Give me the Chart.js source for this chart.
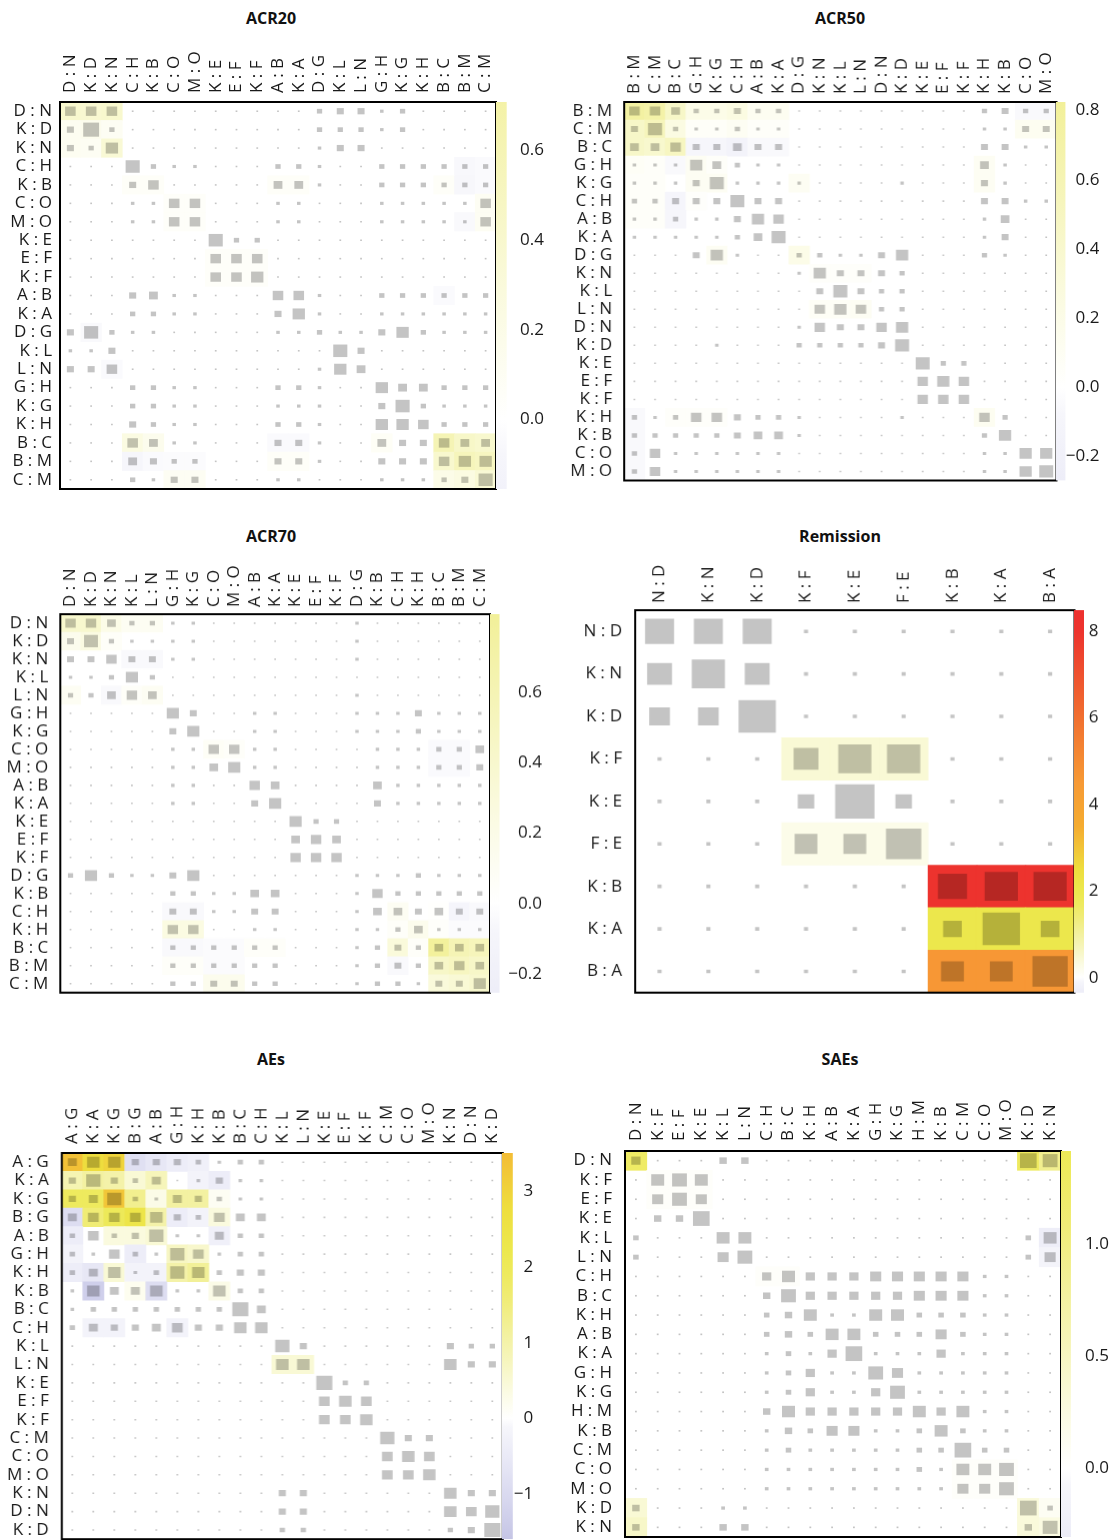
<!DOCTYPE html>
<html>
<head>
<meta charset="utf-8">
<script src="https://cdn.jsdelivr.net/npm/chart.js@4.4.1/dist/chart.umd.min.js"></script>
<style>
  html, body { margin: 0; padding: 0; background: #fff; }
  #page { position: relative; width: 1109px; height: 1540px; overflow: hidden; }
  .box { position: absolute; }
  .title { position: absolute; font: bold 16px "Open Sans", sans-serif; color: #111;
           transform: translate(-50%, -50%); white-space: nowrap; }
</style>
</head>
<body>
<div id="page"></div>
<script>
// ---- data: comparison labels, contribution weights (grey squares), heat values (background) ----
const acr20Labels = ['D : N','K : D','K : N','C : H','K : B','C : O','M : O','K : E','E : F','K : F','A : B','K : A','D : G','K : L','L : N','G : H','K : G','K : H','B : C','B : M','C : M'];
const acr20Weights = [
  [6,6,6,1,1,1,1,1,1,1,1,1,3,4,4,2,3,1,1,1,1],
  [4,9,3,1,1,1,1,1,1,1,1,1,3,3,3,2,3,1,1,1,1],
  [4,3,7,1,1,1,1,1,1,1,1,1,2,4,4,1,1,1,1,1,1],
  [1,1,1,8,3,2,2,1,1,1,3,3,2,1,1,3,3,3,3,3,3],
  [1,1,1,4,6,1,1,1,1,1,5,5,2,1,1,3,3,3,3,3,3],
  [1,1,1,2,2,6,6,1,1,1,2,2,1,1,1,2,2,2,2,2,6],
  [1,1,1,2,2,6,6,1,1,1,2,2,1,1,1,2,2,2,2,2,6],
  [1,1,1,1,1,1,1,8,3,3,1,1,1,1,1,1,1,1,1,1,1],
  [1,1,1,1,1,1,1,6,6,6,1,1,1,1,1,1,1,1,1,1,1],
  [1,1,1,1,1,1,1,6,6,7,1,1,1,1,1,1,1,1,1,1,1],
  [1,1,1,4,5,2,2,1,1,1,6,6,2,1,1,3,3,3,3,3,3],
  [1,1,1,3,3,2,2,1,1,1,4,7,2,1,1,2,2,2,2,2,2],
  [4,8,3,2,2,1,1,1,1,1,2,2,3,2,2,4,7,3,2,2,2],
  [2,2,4,1,1,1,1,1,1,1,1,1,1,8,4,1,1,1,1,1,1],
  [4,4,6,1,1,1,1,1,1,1,1,1,2,7,5,1,1,1,1,1,1],
  [1,1,1,3,3,2,2,1,1,1,3,3,2,1,1,7,5,5,3,3,3],
  [1,1,1,3,3,2,2,1,1,1,2,2,2,1,1,4,8,3,2,2,2],
  [1,1,1,4,3,2,2,1,1,1,3,3,2,1,1,7,7,6,3,3,3],
  [1,1,1,6,5,2,2,1,1,1,4,4,2,1,1,5,4,4,6,5,5],
  [1,1,1,5,4,3,3,1,1,1,4,4,2,1,1,4,4,4,6,7,7],
  [1,1,1,3,2,4,4,1,1,1,2,2,1,1,1,2,2,2,3,4,8]
];
const acr20Heat = [
  [0,0,.4],[0,1,.38],[0,2,.4],[1,0,.12],[1,1,.15],[1,2,.1],[2,0,.12],[2,1,.1],[2,2,.35],
  [3,19,-.06],[3,20,-.04],
  [4,3,.06],[4,4,.06],[4,10,.06],[4,11,.06],[4,18,.06],[4,19,-.07],[4,20,-.04],
  [5,5,.05],[5,6,.05],[5,20,.1],[6,5,.05],[6,6,.05],[6,19,-.05],[6,20,.1],
  [8,7,.05],[8,8,.05],[8,9,.05],[9,7,.05],[9,8,.05],[9,9,.05],
  [10,18,-.04],[12,1,-.05],[14,2,-.04],
  [18,3,.25],[18,4,.15],[18,10,-.04],[18,11,-.04],[18,15,.08],[18,18,.6],[18,19,.45],[18,20,.4],
  [19,3,-.08],[19,4,-.04],[19,5,-.03],[19,6,-.03],[19,10,.06],[19,11,.06],[19,18,.4],[19,19,.55],[19,20,.5],
  [20,5,.1],[20,6,.1],[20,18,.2],[20,19,.25],[20,20,.35]
];
const acr20Ticks = [0, 0.2, 0.4, 0.6];

const acr50Labels = ['B : M','C : M','B : C','G : H','K : G','C : H','A : B','K : A','D : G','K : N','K : L','L : N','D : N','K : D','K : E','E : F','K : F','K : H','K : B','C : O','M : O'];
const acr50Weights = [
  [6,6,5,3,3,4,3,3,1,1,1,1,1,1,1,1,1,3,4,3,3],
  [4,8,3,2,2,3,2,2,1,1,1,1,1,1,1,1,1,2,2,4,4],
  [5,5,6,4,4,5,4,4,1,1,1,1,1,1,1,1,1,4,4,2,2],
  [2,2,2,7,5,3,2,2,1,1,1,1,1,1,1,1,1,5,2,1,1],
  [2,2,2,4,8,2,2,2,2,1,1,1,1,2,1,1,1,4,2,1,1],
  [3,3,4,4,4,8,4,4,1,1,1,1,1,1,1,1,1,4,4,2,2],
  [2,2,3,2,2,4,7,6,1,1,1,1,1,1,1,1,1,2,5,1,1],
  [2,2,2,2,2,3,5,8,1,1,1,1,1,1,1,1,1,2,4,1,1],
  [1,1,1,4,7,2,1,1,3,3,2,2,4,7,1,1,1,3,2,1,1],
  [1,1,1,1,1,1,1,1,2,7,4,4,4,3,1,1,1,1,1,1,1],
  [1,1,1,1,1,1,1,1,1,4,8,4,3,3,1,1,1,1,1,1,1],
  [1,1,1,1,1,1,1,1,1,6,7,6,3,3,1,1,1,1,1,1,1],
  [1,1,1,1,1,1,1,1,2,6,4,4,6,7,1,1,1,1,1,1,1],
  [1,1,1,1,2,1,1,1,3,3,3,3,4,8,1,1,1,1,1,1,1],
  [1,1,1,1,1,1,1,1,1,1,1,1,1,1,8,3,3,1,1,1,1],
  [1,1,1,1,1,1,1,1,1,1,1,1,1,1,6,7,6,1,1,1,1],
  [1,1,1,1,1,1,1,1,1,1,1,1,1,1,6,6,6,1,1,1,1],
  [3,2,3,6,6,4,3,3,2,1,1,1,1,2,1,1,1,6,3,1,1],
  [3,3,3,3,3,4,5,5,2,1,1,1,1,1,1,1,1,3,7,1,1],
  [3,6,2,2,2,2,2,2,1,1,1,1,1,1,1,1,1,2,2,7,7],
  [3,6,2,2,2,2,2,2,1,1,1,1,1,1,1,1,1,2,2,7,8]
];
const acr50Heat = [
  [0,0,.75],[0,1,.7],[0,2,.45],[0,3,.2],[0,4,.2],[0,5,.25],[0,6,.12],[0,7,.12],[0,19,-.05],[0,20,-.05],
  [1,0,.45],[1,1,.55],[1,2,.25],[1,3,.06],[1,4,.06],[1,5,.1],[1,6,.05],[1,7,.05],[1,19,.12],[1,20,.12],
  [2,0,.45],[2,1,.4],[2,2,.5],[2,3,-.08],[2,4,-.08],[2,5,-.15],[2,6,-.05],[2,7,-.05],
  [3,0,.08],[3,1,.05],[3,2,-.05],[3,3,.1],[3,4,.05],[3,17,.1],
  [4,0,.05],[4,1,.05],[4,3,.1],[4,4,.1],[4,8,.1],[4,17,.1],
  [5,0,.05],[5,1,.05],[5,2,-.1],[5,3,.03],[6,0,.05],[6,1,.05],[6,2,-.08],
  [8,4,.1],[8,8,.2],[9,9,.04],[9,10,.04],[9,11,.04],[11,9,.08],[11,10,.08],[11,11,.1],
  [17,0,-.05],[17,2,.04],[17,3,.04],[17,4,.04],[17,17,.12],[18,0,-.05],[19,0,-.05],[20,0,-.05]
];
const acr50Ticks = [-0.2, 0, 0.2, 0.4, 0.6, 0.8];

const acr70Labels = ['D : N','K : D','K : N','K : L','L : N','G : H','K : G','C : O','M : O','A : B','K : A','K : E','E : F','K : F','D : G','K : B','C : H','K : H','B : C','B : M','C : M'];
const acr70Weights = [
  [6,6,5,3,3,2,2,1,1,1,1,1,1,1,2,1,1,1,1,1,1],
  [4,8,3,2,2,2,2,1,1,1,1,1,1,1,2,1,1,1,1,1,1],
  [4,4,6,4,4,2,2,1,1,1,1,1,1,1,2,1,1,1,1,1,1],
  [2,2,3,7,3,1,1,1,1,1,1,1,1,1,1,1,1,1,1,1,1],
  [3,3,5,6,5,1,1,1,1,1,1,1,1,1,2,1,1,1,1,1,1],
  [1,1,1,1,1,7,4,1,1,2,2,1,1,1,2,2,2,4,2,2,2],
  [1,1,1,1,1,4,7,1,1,2,2,1,1,1,2,2,2,3,2,2,2],
  [1,1,1,1,1,2,2,6,6,2,2,1,1,1,1,2,2,2,3,3,5],
  [1,1,1,1,1,2,2,5,7,2,2,1,1,1,1,2,2,2,3,3,4],
  [1,1,1,1,1,2,2,1,1,6,5,1,1,1,1,5,2,2,2,2,2],
  [1,1,1,1,1,2,2,1,1,4,7,1,1,1,1,4,2,2,2,2,2],
  [1,1,1,1,1,1,1,1,1,1,1,7,3,3,1,1,1,1,1,1,1],
  [1,1,1,1,1,1,1,1,1,1,1,5,6,5,1,1,1,1,1,1,1],
  [1,1,1,1,1,1,1,1,1,1,1,6,6,6,1,1,1,1,1,1,1],
  [3,7,3,2,2,4,7,1,1,1,1,1,1,1,2,2,2,3,2,2,2],
  [1,1,1,1,1,3,3,2,2,5,5,1,1,1,2,6,3,3,3,3,3],
  [1,1,1,1,1,4,4,2,2,4,4,1,1,1,2,5,5,4,5,4,4],
  [1,1,1,1,1,6,6,1,1,2,2,1,1,1,2,2,3,5,2,2,2],
  [1,1,1,1,1,3,3,3,3,3,3,1,1,1,2,3,4,3,5,5,5],
  [1,1,1,1,1,3,3,3,3,3,3,1,1,1,2,3,4,3,5,6,5],
  [1,1,1,1,1,3,3,4,4,3,3,1,1,1,2,3,3,2,4,4,7]
];
const acr70Heat = [
  [0,0,.4],[0,1,.4],[0,2,.2],[0,3,.1],[0,4,.1],[1,0,.15],[1,1,.25],[1,2,.06],
  [2,3,-.05],[2,4,-.05],[4,0,.1],[4,2,-.05],[4,3,.06],[4,4,.1],
  [7,7,.08],[7,8,.05],[7,18,-.04],[7,19,-.04],[8,18,-.04],[8,19,-.04],
  [16,5,-.05],[16,6,-.05],[16,16,.1],[16,18,.02],[16,19,-.1],[16,20,-.05],
  [17,5,.25],[17,6,.25],[17,16,.05],[17,17,.15],[17,18,.04],[17,19,-.03],[17,20,-.03],
  [18,5,-.05],[18,6,-.05],[18,7,-.03],[18,8,-.03],[18,9,.05],[18,10,.05],[18,16,.3],[18,17,.05],[18,18,.8],[18,19,.6],[18,20,.55],
  [19,5,.05],[19,6,.05],[19,7,-.03],[19,8,-.03],[19,16,-.05],[19,18,.45],[19,19,.5],[19,20,.45],
  [20,7,.15],[20,8,.15],[20,18,.3],[20,19,.35],[20,20,.4]
];
const acr70Ticks = [-0.2, 0, 0.2, 0.4, 0.6];

const remLabels = ['N : D','K : N','K : D','K : F','K : E','F : E','K : B','K : A','B : A'];
const remWeights = [
  [7,7,7,1,1,1,1,1,1],
  [6,8,6,1,1,1,1,1,1],
  [5,5,9,1,1,1,1,1,1],
  [1,1,1,6,8,8,1,1,1],
  [1,1,1,4,9.5,4,1,1,1],
  [1,1,1,5.5,5.5,8.5,1,1,1],
  [1,1,1,1,1,1,7,8,8],
  [1,1,1,1,1,1,4.5,9,4.5],
  [1,1,1,1,1,1,5.5,5.5,8.5]
];
const remHeat = [
  [3,3,.45],[3,4,.45],[3,5,.45],[5,3,.25],[5,4,.25],[5,5,.25],
  [6,6,8.2],[6,7,8.2],[6,8,8.2],[7,6,2.05],[7,7,2.05],[7,8,2.05],[8,6,4.6],[8,7,4.6],[8,8,4.6]
];
const remTicks = [0, 2, 4, 6, 8];

const aesLabels = ['A : G','K : A','K : G','B : G','A : B','G : H','K : H','K : B','B : C','C : H','K : L','L : N','K : E','E : F','K : F','C : M','C : O','M : O','K : N','D : N','K : D'];
const aesWeights = [
  [5,7,7,4,4,4,3,2,3,3,1,1,1,1,1,1,1,1,1,1,1],
  [4,8,4,3,5,1,2,4,2,2,1,1,1,1,1,1,1,1,1,1,1],
  [4,5,8,3,2,5,4,3,2,2,1,1,1,1,1,1,1,1,1,1,1],
  [5,6,6,6,7,4,3,6,5,5,1,1,1,1,1,1,1,1,1,1,1],
  [3,6,3,4,8,2,2,5,3,3,1,1,1,1,1,1,1,1,1,1,1],
  [3,2,6,3,2,8,6,2,3,3,1,1,1,1,1,1,1,1,1,1,1],
  [3,5,7,2,3,8,7,3,4,4,1,1,1,1,1,1,1,1,1,1,1],
  [2,7,5,5,7,2,2,7,3,3,1,1,1,1,1,1,1,1,1,1,1],
  [2,3,3,3,3,3,3,3,9,5,1,1,1,1,1,1,1,1,1,1,1],
  [3,5,4,4,5,6,4,4,7,7,1,1,1,1,1,1,1,1,1,1,1],
  [1,1,1,1,1,1,1,1,1,1,8,4,1,1,1,1,1,1,4,3,3],
  [1,1,1,1,1,1,1,1,1,1,7,7,1,1,1,1,1,1,7,4,4],
  [1,1,1,1,1,1,1,1,1,1,1,1,9,3,3,1,1,1,1,1,1],
  [1,1,1,1,1,1,1,1,1,1,1,1,6,7,6,1,1,1,1,1,1],
  [1,1,1,1,1,1,1,1,1,1,1,1,6,6,7,1,1,1,1,1,1],
  [1,1,1,1,1,1,1,1,1,1,1,1,1,1,1,8,4,4,1,1,1],
  [1,1,1,1,1,1,1,1,1,1,1,1,1,1,1,6,7,6,1,1,1],
  [1,1,1,1,1,1,1,1,1,1,1,1,1,1,1,6,6,7,1,1,1],
  [1,1,1,1,1,1,1,1,1,1,4,4,1,1,1,1,1,1,7,4,4],
  [1,1,1,1,1,1,1,1,1,1,4,4,1,1,1,1,1,1,7,6,8],
  [1,1,1,1,1,1,1,1,1,1,3,3,1,1,1,1,1,1,3,4,9]
];
const aesHeat = [
  [0,0,3.4],[0,1,2.8],[0,2,3.0],[0,3,-.8],[0,4,-.6],[0,5,-.4],[0,6,-.3],
  [1,0,.9],[1,1,1.1],[1,2,1.0],[1,3,.5],[1,4,.8],[1,6,-.2],[1,7,-.4],
  [2,0,1.9],[2,1,1.9],[2,2,3.3],[2,3,1.3],[2,4,.3],[2,5,1.1],[2,6,1.1],[2,7,.15],
  [3,0,-.9],[3,1,1.6],[3,2,2.0],[3,3,2.4],[3,4,1.0],[3,5,-.4],[3,6,-.2],[3,7,.4],
  [4,0,-.4],[4,2,.4],[4,3,.4],[4,4,.5],[4,7,-.3],
  [5,0,-.2],[5,3,-.4],[5,5,.7],[5,6,.6],
  [6,0,-.4],[6,1,-.6],[6,2,.5],[6,3,-.2],[6,4,-.2],[6,5,1.0],[6,6,1.2],
  [7,1,-1.3],[7,3,.2],[7,4,-.9],[7,7,.3],
  [9,1,-.2],[9,2,-.2],[9,5,-.2],[11,10,.5],[11,11,.5]
];
const aesTicks = [-1, 0, 1, 2, 3];

const saesLabels = ['D : N','K : F','E : F','K : E','K : L','L : N','C : H','B : C','K : H','A : B','K : A','G : H','K : G','H : M','K : B','C : M','C : O','M : O','K : D','K : N'];
const saesWeights = [
  [5,1,1,1,4,4,1,1,1,1,1,1,1,1,1,1,1,1,9,8],
  [1,7,8,7,1,1,1,1,1,1,1,1,1,1,1,1,1,1,1,1],
  [1,6,8,6,1,1,1,1,1,1,1,1,1,1,1,1,1,1,1,1],
  [1,4,4,9,1,1,1,1,1,1,1,1,1,1,1,1,1,1,1,1],
  [3,1,1,1,7,7,1,1,1,1,1,1,1,1,1,1,1,1,3,7],
  [3,1,1,1,6,8,1,1,1,1,1,1,1,1,1,1,1,1,3,6],
  [1,1,1,1,1,1,5,7,5,5,5,6,6,6,6,6,2,2,1,1],
  [1,1,1,1,1,1,4,8,5,5,5,5,5,6,6,6,2,2,1,1],
  [1,1,1,1,1,1,3,4,7,2,2,7,7,3,3,3,2,2,1,1],
  [1,1,1,1,1,1,3,4,3,7,7,3,3,3,6,3,2,2,1,1],
  [1,1,1,1,1,1,2,3,2,5,9,2,2,2,5,2,2,2,1,1],
  [1,1,1,1,1,1,2,3,5,2,2,8,6,2,2,2,2,2,1,1],
  [1,1,1,1,1,1,2,3,5,2,2,5,8,2,2,2,2,2,1,1],
  [1,1,1,1,1,1,4,7,5,5,5,5,5,7,5,7,2,2,1,1],
  [1,1,1,1,1,1,2,4,3,6,6,2,2,3,7,3,2,2,1,1],
  [1,1,1,1,1,1,2,3,2,2,2,2,2,3,3,9,3,3,1,1],
  [1,1,1,1,1,1,2,2,2,2,2,2,2,3,2,7,7,8,1,1],
  [1,1,1,1,1,1,2,2,2,2,2,2,2,2,2,6,6,8,1,1],
  [4,1,1,1,2,2,1,1,1,1,1,1,1,1,1,1,1,1,9,3],
  [4,1,1,1,4,4,1,1,1,1,1,1,1,1,1,1,1,1,4,8]
];
const saesHeat = [
  [0,0,1.25],[0,18,1.3],[0,19,.9],
  [1,1,.04],[1,2,.04],[1,3,.04],[2,1,.04],[2,2,.04],[2,3,.04],
  [4,19,-.25],[5,19,-.12],[6,6,.04],[6,7,.04],
  [16,15,.04],[16,16,.04],[16,17,.04],[17,15,.04],[17,16,.04],[17,17,.04],
  [18,0,.35],[18,18,.3],[18,19,.1],[19,0,.45],[19,18,.3],[19,19,.25]
];
const saesTicks = [0, 0.5, 1.0];

// ---- colour scale: heat value -> rgb ----
const heatStops = [
  [-1.6,[190,190,226]],[-1,[214,214,238]],[-0.5,[232,232,246]],[-0.1,[246,246,251]],[0,[255,255,255]],
  [0.3,[251,251,228]],[0.7,[246,245,188]],[1,[243,241,160]],[1.4,[240,236,120]],[1.7,[238,234,95]],
  [2,[236,232,78]],[2.5,[238,222,62]],[3,[242,196,56]],[3.5,[245,172,48]],[4.5,[247,154,53]],
  [6,[241,112,48]],[8,[237,52,46]],[9,[236,46,46]]
];
function heatColor(v) {
  const s = heatStops;
  if (v <= s[0][0]) return 'rgb(' + s[0][1].join(',') + ')';
  for (let i = 1; i < s.length; i++) {
    if (v <= s[i][0]) {
      const [v0, c0] = s[i - 1], [v1, c1] = s[i];
      const t = (v - v0) / (v1 - v0);
      return 'rgb(' + c0.map((x, k) => Math.round(x + (c1[k] - x) * t)).join(',') + ')';
    }
  }
  return 'rgb(' + s[s.length - 1][1].join(',') + ')';
}

// ---- layout of the six panels (pixel boxes of the matrices) ----
const panels = [
  { title: 'ACR20', labels: acr20Labels, weights: acr20Weights, heat: acr20Heat, gain: 1.3,
    box: [60, 101.5, 496, 488.5], titleAt: [271, 17.5], rowPad: 8, colPad: 9,
    bar: { right: 506.7, labelRight: 544, min: -0.155, max: 0.7075, ticks: acr20Ticks, digits: 1 } },
  { title: 'ACR50', labels: acr50Labels, weights: acr50Weights, heat: acr50Heat, gain: 1.3,
    box: [624, 101.5, 1055.5, 480], titleAt: [840, 17.5], rowPad: 12, colPad: 8,
    bar: { right: 1065, labelRight: 1099, min: -0.269, max: 0.825, ticks: acr50Ticks, digits: 1 } },
  { title: 'ACR70', labels: acr70Labels, weights: acr70Weights, heat: acr70Heat, gain: 1.3,
    box: [60.3, 614, 490, 991.7], titleAt: [271, 535.7], rowPad: 12, colPad: 7,
    bar: { right: 499.6, labelRight: 542, min: -0.2536, max: 0.8225, ticks: acr70Ticks, digits: 1 } },
  { title: 'Remission', labels: remLabels, weights: remWeights, heat: remHeat, gain: 1,
    box: [635, 610, 1073.5, 991.7], titleAt: [840, 535.7], rowPad: 13, colPad: 7,
    bar: { right: 1083.5, labelRight: 1098, min: -0.347, max: 8.49, ticks: remTicks, digits: 0 } },
  { title: 'AEs', labels: aesLabels, weights: aesWeights, heat: aesHeat, gain: 0.9,
    box: [61.7, 1152.7, 501.8, 1538.9], titleAt: [271, 1059], rowPad: 13, colPad: 9,
    bar: { right: 512.6, labelRight: 533, min: -1.594, max: 3.504, ticks: aesTicks, digits: 0 } },
  { title: 'SAEs', labels: saesLabels, weights: saesWeights, heat: saesHeat, gain: 1.3,
    box: [625, 1150.7, 1061, 1536.7], titleAt: [840, 1059], rowPad: 13, colPad: 10,
    bar: { right: 1071, labelRight: 1109, min: -0.306, max: 1.413, ticks: saesTicks, digits: 1 } }
];

Chart.defaults.animation = false;
Chart.defaults.font.family = '"Open Sans", sans-serif';
Chart.defaults.plugins.legend.display = false;
Chart.defaults.plugins.tooltip.enabled = false;

const SQ = 0.085;              // side of a square per unit of weight, as a share of the cell
const FS = 17;
const labelFont = { size: FS, lineHeight: 1.2 };
const ink = '#1a1a1a';
const page = document.getElementById('page');

const frame = {
  id: 'frame',
  afterDatasetsDraw(chart) {
    const a = chart.chartArea, c = chart.ctx;
    c.save();
    c.strokeStyle = '#000';
    c.lineWidth = 2;
    c.strokeRect(a.left, a.top, a.right - a.left, a.bottom - a.top);
    c.restore();
  }
};

function addCanvas(left, top, width, height) {
  const wrap = document.createElement('div');
  wrap.className = 'box';
  Object.assign(wrap.style, { left: left + 'px', top: top + 'px', width: width + 'px', height: height + 'px' });
  const cv = document.createElement('canvas');
  wrap.appendChild(cv);
  page.appendChild(wrap);
  return cv;
}

function fmt(v, digits) {
  return v.toFixed(digits).replace('-', '\u2212');
}

panels.forEach(p => {
  const [L, T, R, B] = p.box;
  const n = p.labels.length;
  const YW = Math.min(L, 70), XH = 64, PADR = 8, PADB = 30;

  // title
  const t = document.createElement('div');
  t.className = 'title';
  t.textContent = p.title;
  t.style.left = p.titleAt[0] + 'px';
  t.style.top = p.titleAt[1] + 'px';
  page.appendChild(t);

  // grey squares, one dataset per weight so each gets its own bar width
  const byWeight = {};
  p.weights.forEach((row, r) => row.forEach((w, c) => {
    (byWeight[w] = byWeight[w] || []).push({ x: p.labels[c], y: [r - w * SQ / 2, r + w * SQ / 2] });
  }));
  const squareSets = Object.keys(byWeight).map(w => ({
    data: byWeight[w],
    backgroundColor: 'rgba(0,0,0,0.23)',
    barPercentage: Number(w) * SQ, categoryPercentage: 1, grouped: false, order: 1
  }));
  const heatSet = {
    data: p.heat.map(([r, c, v]) => ({ x: p.labels[c], y: [r - 0.5, r + 0.5], v })),
    backgroundColor: ctx => (ctx.raw ? heatColor(ctx.raw.v * p.gain) : 'rgba(0,0,0,0)'),
    barPercentage: 1, categoryPercentage: 1, grouped: false, order: 2
  };

  const cv = addCanvas(L - YW, T - XH, YW + (R - L) + PADR, XH + (B - T) + PADB);
  new Chart(cv, {
    type: 'bar',
    data: { labels: p.labels, datasets: [...squareSets, heatSet] },
    options: {
      responsive: true, maintainAspectRatio: false,
      layout: { padding: { left: 0, top: 0, right: PADR, bottom: PADB } },
      scales: {
        x: {
          type: 'category', position: 'top', offset: true,
          grid: { display: false, drawTicks: false }, border: { display: false },
          // rotated labels on a top axis are drawn one line-height left of the tick
          ticks: { autoSkip: false, minRotation: 90, maxRotation: 90, padding: p.colPad,
                   labelOffset: FS * 1.2, font: labelFont, color: ink },
          afterFit: s => { s.height = XH; }
        },
        y: {
          type: 'linear', min: -0.5, max: n - 0.5, reverse: true,
          grid: { display: false, drawTicks: false }, border: { display: false },
          afterBuildTicks: s => { s.ticks = p.labels.map((_, i) => ({ value: i })); },
          ticks: { autoSkip: false, padding: p.rowPad, font: labelFont, color: ink, callback: v => p.labels[v] },
          afterFit: s => { s.width = YW; }
        }
      }
    },
    plugins: [frame]
  });

  // colour bar
  const cb = p.bar, PADV = 30;
  const cbv = addCanvas(R, T - PADV, cb.labelRight - R, (B - T) + 2 * PADV);
  new Chart(cbv, {
    type: 'bar',
    data: {
      labels: ['scale'],
      datasets: [{
        data: [{ x: 'scale', y: [cb.min, cb.max] }],
        backgroundColor: ctx => {
          const ch = ctx.chart, a = ch.chartArea;
          if (!a) return '#fff';
          const g = ch.ctx.createLinearGradient(0, a.bottom, 0, a.top);
          const pos = u => (u - cb.min) / (cb.max - cb.min);
          g.addColorStop(0, heatColor(cb.min * p.gain));
          heatStops.forEach(([s]) => {
            const u = s / p.gain;
            if (u > cb.min && u < cb.max) g.addColorStop(pos(u), heatColor(s));
          });
          g.addColorStop(1, heatColor(cb.max * p.gain));
          return g;
        },
        barPercentage: 1, categoryPercentage: 1, borderWidth: 0
      }]
    },
    options: {
      responsive: true, maintainAspectRatio: false,
      layout: { padding: { left: 0, right: 0, top: PADV, bottom: PADV } },
      scales: {
        x: { display: false },
        y: {
          position: 'right', min: cb.min, max: cb.max,
          grid: { display: false, drawTicks: false }, border: { display: false },
          afterBuildTicks: s => { s.ticks = cb.ticks.map(v => ({ value: v })); },
          ticks: { crossAlign: 'far', padding: 0, font: labelFont, color: ink, callback: v => fmt(v, cb.digits) },
          afterFit: s => { s.width = cb.labelRight - cb.right; }
        }
      }
    }
  });
});
</script>
</body>
</html>
